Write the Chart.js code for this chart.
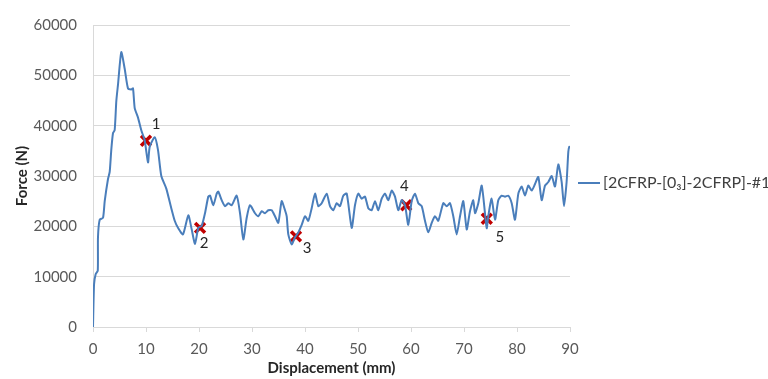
<!DOCTYPE html>
<html>
<head>
<meta charset="utf-8">
<title>Force vs displacement</title>
<script src="https://cdn.jsdelivr.net/npm/chart.js@4.4.0/dist/chart.umd.min.js"></script>
<style>
  html, body { margin: 0; padding: 0; background: #ffffff; }
  #wrap { width: 768px; height: 379px; }
</style>
</head>
<body>
<div id="wrap"><canvas id="chart" width="768" height="379"></canvas></div>
<script>
// Displacement (mm) and force (N) of the test curve
const displacement = [
  0, 0.2, 0.5, 0.9, 0.94, 1.26, 1.89, 2.21, 2.83, 3.15, 3.45, 3.77, 4.09, 4.40, 4.72, 5.34,
  5.98, 6.60, 7.23, 7.55, 7.87, 8.49, 9.11, 9.75, 10.38, 10.70, 11.64, 12.26, 12.89, 13.83,
  14.77, 15.42, 16.04, 16.98, 17.98, 18.62, 19.25, 19.87, 20.51, 21.13, 21.75, 22.08, 22.70,
  23.34, 23.64, 24.28, 24.91, 25.53, 26.17, 27.11, 27.74, 28.36, 29.00, 29.62, 30.57, 31.19,
  31.83, 32.45, 33.08, 33.72, 34.34, 34.96, 35.60, 36.23, 36.55, 36.85, 37.49, 38.11, 38.74,
  39.38, 40.00, 40.62, 41.26, 41.89, 42.51, 43.15, 44.09, 44.72, 45.34, 45.98, 46.60, 47.23,
  47.87, 48.81, 49.43, 50.06, 50.70, 51.32, 51.94, 52.58, 53.21, 53.83, 54.47, 55.09, 55.72,
  56.36, 56.98, 57.60, 58.25, 58.87, 59.49, 60.13, 60.75, 61.38, 62.02, 62.64, 63.26, 63.91,
  64.53, 65.15, 66.09, 66.74, 67.36, 67.98, 68.62, 69.25, 69.87, 70.51, 71.13, 71.75, 72.08,
  72.70, 73.34, 73.96, 74.28, 74.58, 75.21, 75.85, 76.47, 77.11, 77.74, 78.36, 79.00, 79.62,
  80.25, 80.89, 81.51, 82.13, 82.77, 83.40, 84.02, 84.66, 85.28, 85.91, 86.55, 87.17, 87.79,
  88.43, 88.87, 89.36, 89.68, 89.87, 90
];
const force = [
  0, 8500, 10500, 11200, 17800, 21300, 21700, 25000, 29400, 30800, 35200, 38500, 39100, 44900, 48200, 54600,
  51300, 47400, 47200, 47400, 43500, 41600, 39100, 37100, 32700, 35800, 37700, 35200, 30000, 27500,
  23600, 21100, 19700, 18400, 22200, 19400, 16500, 19700, 20100, 22600, 25900, 26100, 24200,
  26500, 26900, 25200, 24000, 24600, 24200, 26100, 22600, 17400, 21700, 24200, 22600, 22000,
  23000, 22600, 23200, 23200, 22000, 20700, 25000, 23200, 22000, 18400, 16400, 17800, 18800,
  20300, 22000, 21100, 23600, 26500, 24000, 24600, 26500, 24000, 23200, 24600, 24000, 26100,
  26500, 19700, 24200, 26500, 25500, 25900, 23600, 23200, 25000, 23200, 25500, 26500, 25200,
  27100, 25900, 23200, 25200, 24200, 20300, 25000, 26500, 24600, 24000, 21100, 18800, 20700,
  22000, 21100, 24600, 24000, 24600, 22000, 18400, 22000, 25000, 19400, 23000, 25200, 22600,
  24600, 28100, 22600, 19600, 22000, 25500, 21300, 25200, 26100, 25900, 26100, 24600, 21300,
  26500, 27900, 26100, 28100, 27100, 28400, 29800, 25200, 28100, 28800, 30000, 27900, 32300,
  28800, 24000, 28800, 34800, 35800, 35500
];

// Numbered points marked on the curve
const markX = [10.0, 20.2, 38.3, 59.1, 74.3];
const markY = [37000, 19700, 18000, 24200, 21500];
const markNames = ['1', '2', '3', '4', '5'];

const seriesName = '[2CFRP-[0\u2083]-2CFRP]-#1';
const xTicks = [0, 10, 20, 30, 40, 50, 60, 70, 80, 90];
const yTicks = [0, 10000, 20000, 30000, 40000, 50000, 60000];

const FONT = 'Lato, "Open Sans", sans-serif';
const TICK_COLOR = '#595959';
const LINE_COLOR = '#4a7ebb';

// numbers next to the red crosses
const markLabels = {
  id: 'markLabels',
  afterDatasetsDraw(chart) {
    const ctx = chart.ctx;
    const meta = chart.getDatasetMeta(1);
    const offsets = [[10, -17], [4, 15], [11, 12], [-2, -19], [13, 18]];
    ctx.save();
    ctx.font = '15px ' + FONT;
    ctx.fillStyle = '#262626';
    ctx.textAlign = 'center';
    ctx.textBaseline = 'middle';
    meta.data.forEach((pt, i) => {
      ctx.fillText(markNames[i], pt.x + offsets[i][0], pt.y + offsets[i][1]);
    });
    ctx.restore();
  }
};

// legend sitting to the right of the plot
const sideLegend = {
  id: 'sideLegend',
  afterDraw(chart) {
    const ctx = chart.ctx;
    const area = chart.chartArea;
    const y = 183;
    const x0 = area.right + 8;
    ctx.save();
    ctx.strokeStyle = LINE_COLOR;
    ctx.lineWidth = 2;
    ctx.beginPath();
    ctx.moveTo(x0, y);
    ctx.lineTo(x0 + 22, y);
    ctx.stroke();
    ctx.font = '16px ' + FONT;
    ctx.fillStyle = '#404040';
    ctx.textAlign = 'left';
    ctx.textBaseline = 'middle';
    ctx.fillText(seriesName, x0 + 25, y);
    ctx.restore();
  }
};

new Chart(document.getElementById('chart').getContext('2d'), {
  type: 'line',
  data: {
    datasets: [
      {
        label: seriesName,
        data: displacement.map((d, i) => ({ x: d, y: force[i] })),
        borderColor: LINE_COLOR,
        borderWidth: 2,
        pointRadius: 0,
        tension: 0.2,
        fill: false
      },
      {
        label: 'marks',
        data: markX.map((d, i) => ({ x: d, y: markY[i] })),
        showLine: false,
        pointStyle: 'crossRot',
        pointRadius: 7,
        borderColor: '#c00000',
        backgroundColor: '#c00000',
        pointBorderWidth: 3.5
      }
    ]
  },
  options: {
    responsive: false,
    animation: false,
    layout: { padding: { top: 17, right: 198, left: 0, bottom: 0 } },
    plugins: {
      legend: { display: false },
      tooltip: { enabled: false }
    },
    scales: {
      x: {
        type: 'linear',
        min: 0,
        max: 90,
        afterBuildTicks: (scale) => { scale.ticks = xTicks.map(v => ({ value: v })); },
        afterFit: (scale) => { scale.height = 52; },
        grid: {
          drawOnChartArea: false,
          drawTicks: true,
          tickLength: 5,
          color: '#d9d9d9'
        },
        border: { color: '#d9d9d9' },
        ticks: {
          color: TICK_COLOR,
          font: { family: FONT, size: 15 },
          padding: 8,
          maxRotation: 0
        },
        title: {
          display: true,
          text: 'Displacement (mm)',
          color: '#262626',
          font: { family: FONT, size: 15, weight: 'bold' },
          padding: { top: 0, bottom: 2 }
        }
      },
      y: {
        min: 0,
        max: 60000,
        afterBuildTicks: (scale) => { scale.ticks = yTicks.map(v => ({ value: v })); },
        afterFit: (scale) => { scale.width = 93; },
        grid: {
          color: '#d9d9d9',
          drawTicks: false
        },
        border: { color: '#d9d9d9' },
        ticks: {
          color: TICK_COLOR,
          font: { family: FONT, size: 15 },
          padding: 16,
          callback: (v) => String(v)
        },
        title: {
          display: true,
          text: 'Force (N)',
          color: '#262626',
          font: { family: FONT, size: 15, weight: 'bold' },
          padding: { top: 13, bottom: 0 }
        }
      }
    }
  },
  plugins: [markLabels, sideLegend]
});
</script>
</body>
</html>
